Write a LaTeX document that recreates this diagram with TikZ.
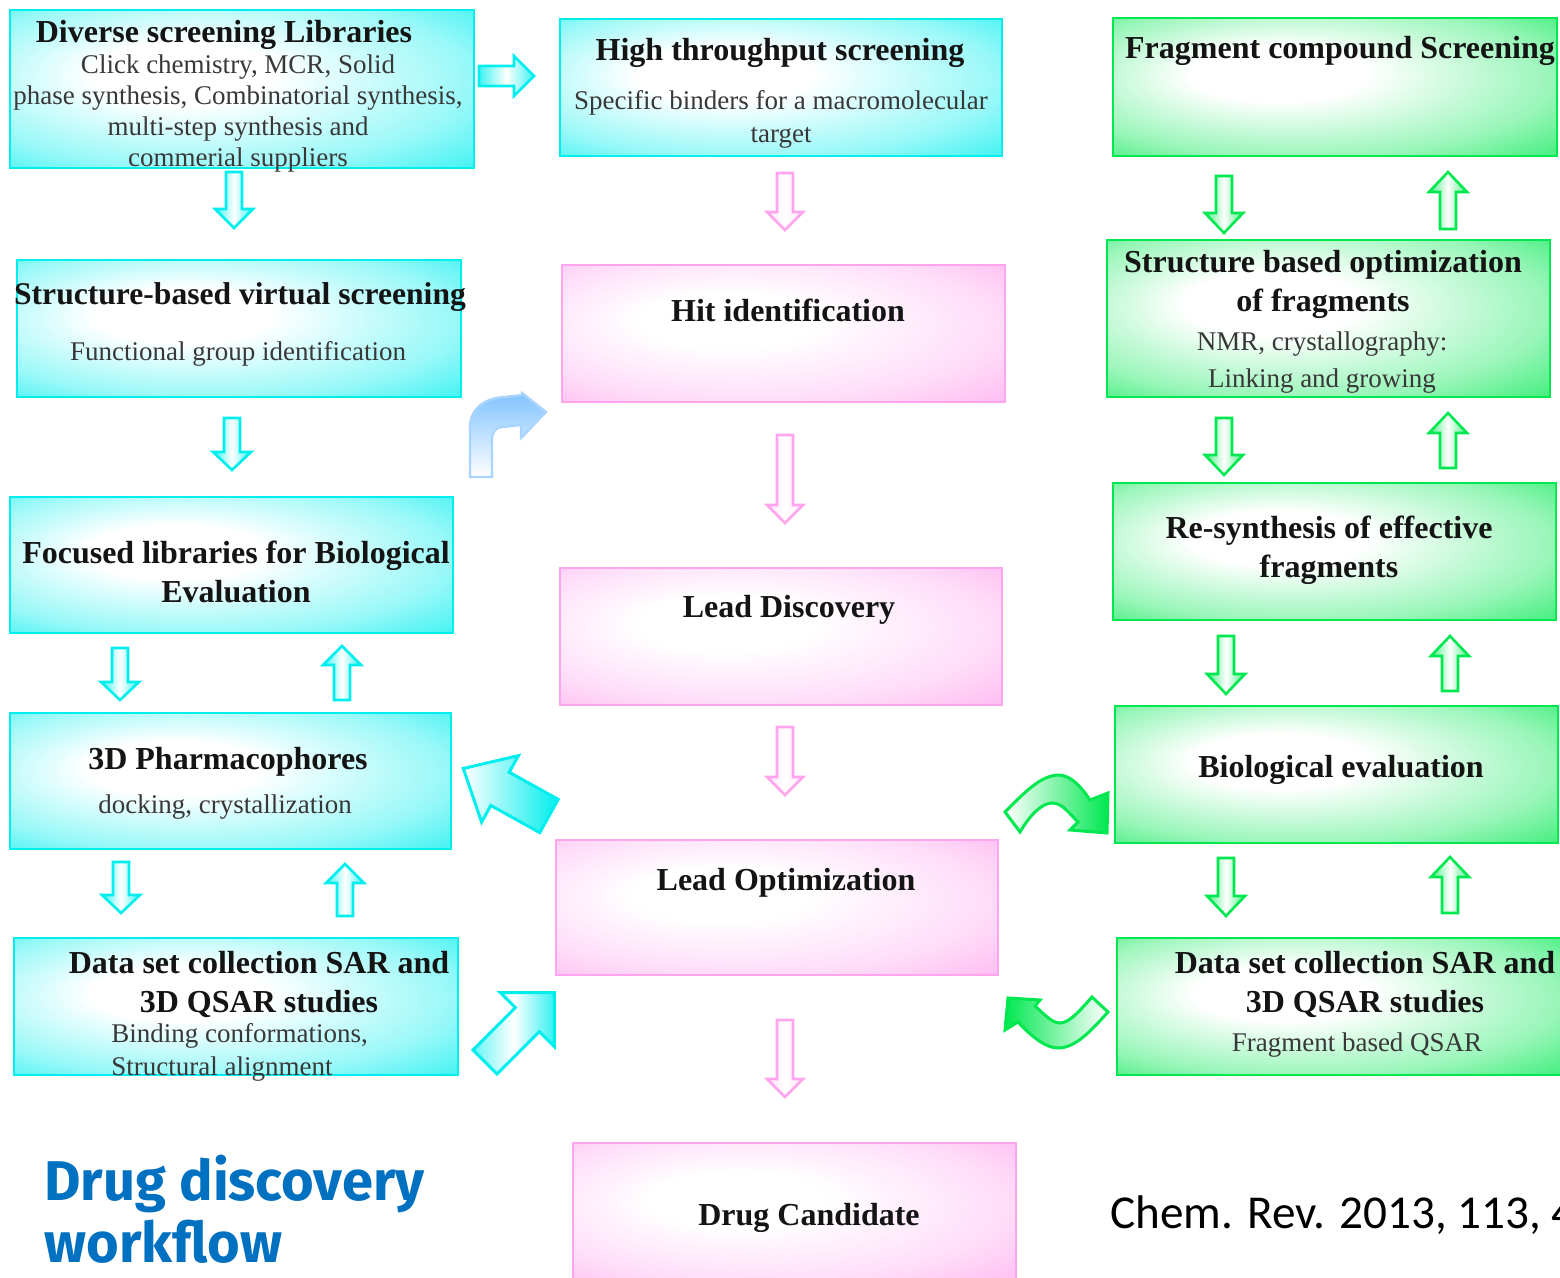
\documentclass[tikz,border=0pt]{standalone}
\usepackage{fontspec}
\setmainfont{Liberation Serif}
\newfontfamily\citefont{Carlito}
\newfontfamily\headfont{Fira Sans}
\usetikzlibrary{fit}
\definecolor{cyanC}{RGB}{0,238,238}
\definecolor{pinkC}{RGB}{255,165,238}
\definecolor{greenC}{RGB}{0,232,80}
\definecolor{blueT}{RGB}{0,112,192}
\definecolor{lblue}{RGB}{130,195,255}
\pgfdeclareradialshading{cyanshade}{\pgfpoint{-8bp}{6bp}}{color(0bp)=(white); color(10bp)=(white); color(28bp)=(cyanC!40); color(42bp)=(cyanC!88); color(50bp)=(cyanC)}
\pgfdeclareradialshading{pinkshade}{\pgfpoint{-8bp}{6bp}}{color(0bp)=(white); color(10bp)=(white); color(28bp)=(pinkC!40); color(42bp)=(pinkC!88); color(50bp)=(pinkC)}
\pgfdeclareradialshading{greenshade}{\pgfpoint{-8bp}{6bp}}{color(0bp)=(white); color(10bp)=(white); color(28bp)=(greenC!40); color(42bp)=(greenC!88); color(50bp)=(greenC)}
% generic straight block arrow: style, x, y (tail centre), length, angle, shaft half, head half, head length
\newcommand\barrow[8]{\path[#1,shift={(#2,#3)},rotate=#5] (0,-#6) -- ({#4-#8},-#6) -- ({#4-#8},-#7) -- (#4,0) -- ({#4-#8},#7) -- ({#4-#8},#6) -- (0,#6) -- cycle;}
% down arrow: style, x, ytail, length, shaft half, head half, head length
\newcommand\darrow[7]{\path[#1] ({#2-#5},#3) -- ({#2-#5},{#3+#4-#7}) -- ({#2-#6},{#3+#4-#7}) -- (#2,{#3+#4}) -- ({#2+#6},{#3+#4-#7}) -- ({#2+#5},{#3+#4-#7}) -- ({#2+#5},#3) -- cycle;}
% up arrow: style, x, ytail (bottom), length, shaft half, head half, head length
\newcommand\uarrow[7]{\path[#1] ({#2-#5},#3) -- ({#2-#5},{#3-#4+#7}) -- ({#2-#6},{#3-#4+#7}) -- (#2,{#3-#4}) -- ({#2+#6},{#3-#4+#7}) -- ({#2+#5},{#3-#4+#7}) -- ({#2+#5},#3) -- cycle;}
\tikzset{
  box/.style={inner sep=0pt, line width=1.4pt},
  cbox/.style={box, shading=cyanshade, draw=cyanC},
  pbox/.style={box, shading=pinkshade, draw=pinkC},
  gbox/.style={box, shading=greenshade, draw=greenC},
  ttl/.style={font=\bfseries\fontsize{16}{19.5}\selectfont, text=black!92, align=center, inner sep=0pt},
  sub/.style={font=\fontsize{13.5}{16}\selectfont, text=black!78, align=center, inner sep=0pt},
  carr/.style={draw=cyanC, line width=1.3pt, left color=cyanC!75, right color=cyanC!75, middle color=white},
  parr/.style={draw=pinkC, line width=1.3pt, left color=pinkC!30, right color=pinkC!30, middle color=white},
  garr/.style={draw=greenC, line width=1.3pt, left color=greenC!70, right color=greenC!70, middle color=white},
}
\begin{document}
\begin{tikzpicture}[x=0.5pt,y=-0.5pt]
\useasboundingbox (0,0) rectangle (1560,1278);
\fill[white] (0,0) rectangle (1560,1278);

% ---------- boxes ----------
\node[cbox, fit={(10,10) (474,168)}] (dsl) {};
\node[cbox, fit={(17,260) (461,397)}] (sbvs) {};
\node[cbox, fit={(10,497) (453,633)}] (flb) {};
\node[cbox, fit={(10,713) (451,849)}] (pharm) {};
\node[cbox, fit={(14,938) (458,1075)}] (dsL) {};

\node[cbox, fit={(560,19) (1002,156)}] (hts) {};
\node[pbox, fit={(562,265) (1005,402)}] (hit) {};
\node[pbox, fit={(560,568) (1002,705)}] (ldis) {};
\node[pbox, fit={(556,840) (998,975)}] (lopt) {};
\node[pbox, fit={(573,1143) (1016,1284)}] (drug) {};

\node[gbox, fit={(1113,18) (1557,156)}] (fcs) {};
\node[gbox, fit={(1107,240) (1550,397)}] (sbo) {};
\node[gbox, fit={(1113,483) (1556,620)}] (resyn) {};
\node[gbox, fit={(1115,706) (1558,843)}] (bio) {};
\node[gbox, fit={(1117,938) (1562,1075)}] (dsR) {};

% ---------- straight arrows ----------
\barrow{carr}{479}{76}{55}{0}{10}{20}{20}
\darrow{carr}{234}{172}{56}{8}{19}{19}
\darrow{carr}{232}{418}{52}{8}{19}{18}
\darrow{carr}{120}{648}{52}{8}{19}{18}
\uarrow{carr}{342}{700}{54}{8}{19}{19}
\darrow{carr}{121}{862}{51}{8}{19}{18}
\uarrow{carr}{345}{916}{52}{8}{19}{19}

\darrow{parr}{785}{173}{57}{8}{18}{18}
\darrow{parr}{785}{435}{88}{8}{18}{18}
\darrow{parr}{785}{727}{68}{8}{18}{18}
\darrow{parr}{785}{1020}{77}{8}{18}{18}

\darrow{garr}{1224}{176}{57}{8}{19}{20}
\uarrow{garr}{1448}{229}{57}{8}{19}{20}
\darrow{garr}{1224}{418}{57}{8}{19}{20}
\uarrow{garr}{1448}{468}{55}{8}{19}{20}
\darrow{garr}{1226}{636}{58}{8}{19}{20}
\uarrow{garr}{1450}{691}{55}{8}{19}{20}
\darrow{garr}{1226}{858}{58}{8}{19}{20}
\uarrow{garr}{1450}{913}{56}{8}{19}{20}

% diagonal cyan arrows
\barrow{draw=cyanC, line width=1.5pt, left color=white, right color=cyanC}{549}{816}{98}{151}{19}{38}{42}
\barrow{draw=cyanC, line width=1.5pt, left color=cyanC!60, right color=cyanC!80, middle color=white}{485}{1062}{98}{45}{17}{38}{38}

% curved light-blue arrow
\path[draw=lblue!70, line width=1.2pt, top color=lblue, bottom color=white]
  (470,477) -- (470,428) .. controls (470,408) and (485,398) .. (505,397) -- (522,395)
  -- (522,393) -- (546,412) -- (521,438) -- (521,425) -- (502,427)
  .. controls (496,427) and (492,432) .. (492,440) -- (492,477) -- cycle;

% curved green arrows
\path[draw=greenC, line width=1.5pt, left color=white, right color=greenC]
  (1005,812) .. controls (1025,792) and (1040,776) .. (1058,775)
  .. controls (1070,775) and (1080,785) .. (1090,800) -- (1108,793) -- (1107,833)
  -- (1070,830) -- (1078,822) .. controls (1068,812) and (1062,803) .. (1052,803)
  .. controls (1042,803) and (1030,815) .. (1020,832) -- cycle;
\path[draw=greenC, line width=1.5pt, left color=greenC, right color=white]
  (1008,998) -- (1040,1000) -- (1035,1006) .. controls (1045,1015) and (1052,1023) .. (1060,1023)
  .. controls (1070,1023) and (1082,1008) .. (1092,997) -- (1108,1012)
  .. controls (1090,1032) and (1075,1048) .. (1058,1048)
  .. controls (1045,1048) and (1030,1035) .. (1018,1022) -- (1005,1030) -- cycle;

% ---------- texts ----------
\node[ttl] (dslT) at (224,35) {Diverse screening Libraries};
\node[sub, font=\fontsize{13.5}{15.5}\selectfont] (dslS) at (238,114) {Click chemistry, MCR, Solid\\phase synthesis, Combinatorial synthesis,\\multi-step synthesis and\\commerial suppliers};

\node[ttl] (htsT) at (780,53) {High throughput screening};
\node[sub, font=\fontsize{13.5}{16.5}\selectfont] (htsS) at (781,119) {Specific binders for a macromolecular\\target};

\node[ttl] (fcsT) at (1340,51) {Fragment compound Screening};

\node[ttl, font=\bfseries\fontsize{15.8}{19.5}\selectfont] (sbvsT) at (240,297) {Structure-based virtual screening};
\node[sub] (sbvsS) at (238,354) {Functional group identification};

\node[ttl] (hitT) at (788,310) {Hit identification};

\node[ttl] (sboT) at (1323,284) {Structure based optimization\\of fragments};
\node[sub, font=\fontsize{13.5}{18.5}\selectfont] (sboS) at (1322,363) {NMR, crystallography:\\Linking and growing};

\node[ttl] (flbT) at (236,572) {Focused libraries for Biological\\Evaluation};
\node[ttl] (ldisT) at (789,610) {Lead Discovery};
\node[ttl] (resynT) at (1329,550) {Re-synthesis of effective\\fragments};

\node[ttl] (pharmT) at (228,762) {3D Pharmacophores};
\node[sub] (pharmS) at (225,807) {docking, crystallization};
\node[ttl] (loptT) at (786,883) {Lead Optimization};
\node[ttl] (bioT) at (1341,770) {Biological evaluation};

\node[ttl] (dsLT) at (259,984) {Data set collection SAR and\\3D QSAR studies};
\node[sub, align=left, anchor=west, font=\fontsize{13.5}{16.5}\selectfont] (dsLS) at (111,1052) {Binding conformations,\\Structural alignment};
\node[ttl] (dsRT) at (1365,984) {Data set collection SAR and\\3D QSAR studies};
\node[sub] (dsRS) at (1357,1045) {Fragment based QSAR};

\node[ttl] (drugT) at (809,1218) {Drug Candidate};

\node[anchor=base west, inner sep=0pt, align=left, text=blueT, font=\headfont\bfseries\fontsize{28}{31}\selectfont] (wf) at (44,1262) {Drug discovery\\workflow};
\node[anchor=base west, inner sep=0pt, font=\citefont\fontsize{23.6}{28}\selectfont] (cite) at (1110,1228) {Chem. Rev. 2013, 113, 4};
\end{tikzpicture}
\end{document}
